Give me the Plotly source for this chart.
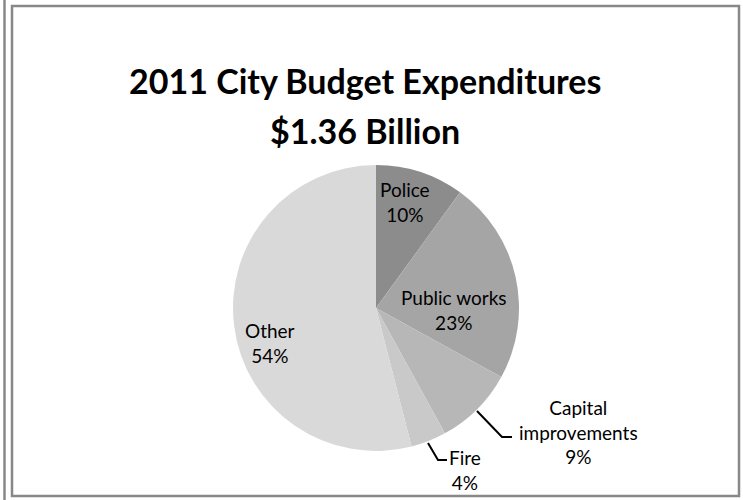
import plotly.graph_objects as go

categories = ["Police", "Public works", "Capital improvements", "Fire", "Other"]
values = [10, 23, 9, 4, 54]
label_text = ["Police", "Public works", "Capital<br>improvements", "Fire", "Other"]
colors = ["#8c8c8c", "#a5a5a5", "#b7b7b7", "#c9c9c9", "#d9d9d9"]
title_lines = ["2011 City Budget Expenditures", "$1.36 Billion"]

W, H = 743, 500
cx, cy, r = 376, 308, 143

fig = go.Figure(go.Pie(
    labels=categories, values=values, sort=False, direction="clockwise", rotation=0,
    marker=dict(colors=colors, line=dict(width=0)),
    textinfo="none", hoverinfo="label+percent", showlegend=False,
    domain=dict(x=[(cx - r) / W, (cx + r) / W], y=[(H - cy - r) / H, (H - cy + r) / H]),
))

def px(x):
    return x / W

def py(y):
    return 1 - y / H

annotations = []
for t, yy in zip(title_lines, [80, 130]):
    annotations.append(dict(text="<b>" + t + "</b>", x=px(365), y=py(yy), xref="paper", yref="paper",
                            showarrow=False, xanchor="center", yanchor="middle",
                            font=dict(family="Lato", size=34, color="#000000")))

label_pos = [(405, 202), (454, 310), (578, 432), (465, 470), (270, 343)]
for t, v, (x, y) in zip(label_text, values, label_pos):
    annotations.append(dict(text=f"{t}<br>{v}%", x=px(x), y=py(y), xref="paper", yref="paper",
                            showarrow=False, align="center", xanchor="center", yanchor="middle",
                            font=dict(family="Lato", size=19, color="#000000")))

shapes = [
    dict(type="rect", xref="paper", yref="paper", x0=px(12), x1=px(739), y0=py(6), y1=py(496),
         line=dict(color="#888888", width=2.5)),
    dict(type="line", xref="paper", yref="paper", x0=px(4.5), x1=px(4.5), y0=0, y1=1,
         line=dict(color="#888888", width=2.5)),
    dict(type="path", xref="paper", yref="paper",
         path=f"M {px(477)},{py(411)} L {px(502)},{py(437)} L {px(512)},{py(437)}",
         line=dict(color="#000000", width=2)),
    dict(type="path", xref="paper", yref="paper",
         path=f"M {px(428)},{py(443)} L {px(438)},{py(460)} L {px(447)},{py(460)}",
         line=dict(color="#000000", width=2)),
]

fig.update_layout(width=W, height=H, margin=dict(l=0, r=0, t=0, b=0),
                  paper_bgcolor="#ffffff", plot_bgcolor="#ffffff",
                  annotations=annotations, shapes=shapes)
fig.write_html("out.html", config={"displayModeBar": False},
               post_script="document.body.style.margin='0';document.body.style.overflow='hidden';")
